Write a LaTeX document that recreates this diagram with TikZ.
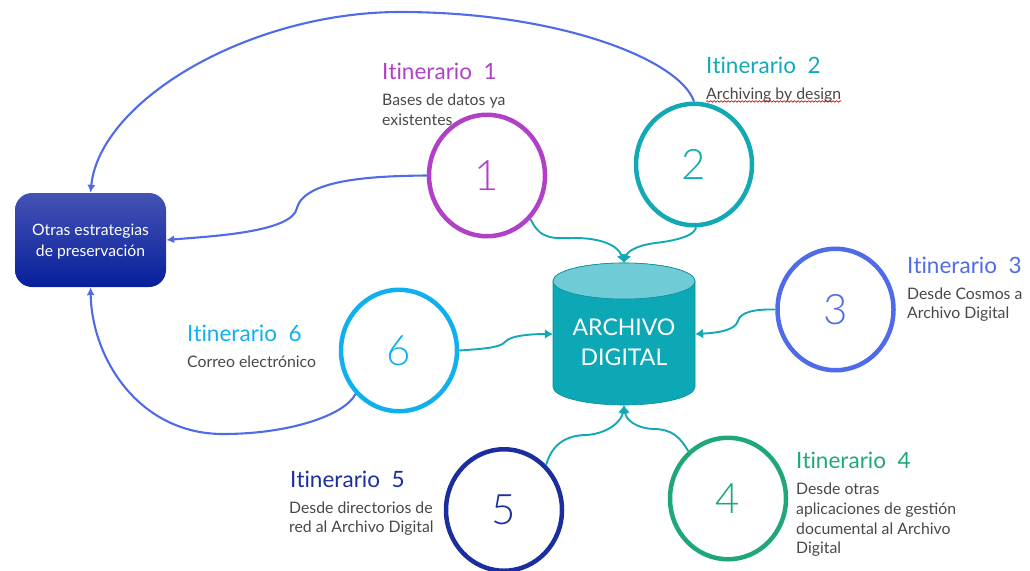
\documentclass[tikz,border=0pt]{standalone}
\usepackage{fontspec}
\setmainfont{Lato}
\newfontfamily\lightf{Lato Light}
\newfontfamily\titlef{Lato}[Kerning=Off,Ligatures=NoCommon]
\usetikzlibrary{arrows.meta,decorations.pathmorphing,shapes.geometric}
\definecolor{cpurple}{HTML}{B040C8}
\definecolor{cteal}{HTML}{12A9B5}
\definecolor{cblue}{HTML}{4F6BE8}
\definecolor{cgreen}{HTML}{1FA876}
\definecolor{cnavy}{HTML}{1C2E9E}
\definecolor{ccyan}{HTML}{10B0EE}
\definecolor{bodyt}{HTML}{0CA8B6}
\definecolor{topt}{HTML}{6FCBD5}
\definecolor{greyt}{HTML}{484848}
\definecolor{boxtop}{HTML}{4453B4}
\definecolor{boxbot}{HTML}{081F9C}
\tikzset{
  ring/.style={ellipse,draw=#1,line width=4.5pt,text=#1,minimum width=116pt,minimum height=121.5pt,inner sep=0pt,font=\lightf\fontsize{42}{42}\selectfont},
  ititle/.style={anchor=base west,inner sep=0pt,text=#1,font=\titlef\fontsize{22.5}{26}\selectfont},
  idesc/.style={anchor=north west,inner sep=0pt,text=greyt,align=left,font=\fontsize{15.8}{19.6}\selectfont},
  tealcon/.style={draw=cteal,line width=1.9pt,-{Latex[length=8pt,width=10pt]}},
  bluecon/.style={draw=cblue,line width=2.1pt,-{Latex[length=8pt,width=8pt]}},
}
\begin{document}
\begin{tikzpicture}[x=1pt,y=-1pt]
\useasboundingbox (0,0) rectangle (1030,570);
% cylinder
\path[fill=bodyt,draw=bodyt!85!black,line width=.6pt] (553,281) -- (553,387) arc[start angle=180,end angle=0,x radius=71,y radius=18] -- (695,281) arc[start angle=0,end angle=-180,x radius=71,y radius=18] -- cycle;
\path[fill=topt,draw=bodyt!85!black,line width=.6pt] (624,281) ellipse[x radius=71,y radius=18];
\node[minimum width=142pt,minimum height=142pt,inner sep=0pt] (arch) at (624,334) {};
\node[inner sep=0pt,text=white,align=center,font=\fontsize{23}{30}\selectfont] (archlabel) at (624,342.5) {ARCHIVO\\DIGITAL};
% box
\node[rounded corners=17pt,minimum width=151pt,minimum height=94pt,inner sep=0pt,top color=boxtop,bottom color=boxbot,text=white,align=center,font=\fontsize{15.7}{20.5}\selectfont] (box) at (90.5,240) {\rule{0pt}{14.5pt}Otras estrategias\\de preservación};
% rings
\node[ring=cpurple] (c1) at (487,175.5) {1};
\node[ring=cteal] (c2) at (694,164.5) {2};
\node[ring=cblue] (c3) at (835.5,309.5) {3};
\node[ring=cgreen] (c4) at (728,498.5) {4};
\node[ring=cnavy] (c5) at (504,510) {5};
\node[ring=ccyan] (c6) at (399,350.5) {6};
% titles
\node[ititle=cpurple] (t1) at (382,79.5) {Itinerario\hspace{.25em} 1};
\node[idesc] (d1) at (382,94) {Bases de datos ya\\existentes};
\node[ititle=cteal] (t2) at (706,73) {Itinerario\hspace{.25em} 2};
\node[idesc] (d2) at (706,87.5) {Archiving by design};
\draw[red!75!black,line width=.6pt,decorate,decoration={snake,amplitude=.8pt,segment length=3.5pt}] ([yshift=1pt]d2.south west) -- ([yshift=1pt]d2.south east);
\node[ititle=cblue] (t3) at (907,273.5) {Itinerario\hspace{.25em} 3};
\node[idesc] (d3) at (907,287.5) {Desde Cosmos a\\Archivo Digital};
\node[ititle=cgreen] (t4) at (796,468.5) {Itinerario\hspace{.25em} 4};
\node[idesc] (d4) at (796,483) {Desde otras\\aplicaciones de gestión\\documental al Archivo\\Digital};
\node[ititle=cnavy] (t5) at (290,487) {Itinerario\hspace{.25em} 5};
\node[idesc] (d5) at (289,501.5) {Desde directorios de\\red al Archivo Digital};
\node[ititle=ccyan] (t6) at (187,341) {Itinerario\hspace{.25em} 6};
\node[idesc] (d6) at (187,355.5) {Correo electrónico};
% teal connectors
\draw[tealcon] (c1.-45) .. controls +(10,22) and (555,238) .. (575,238) .. controls (600,238) and (618,245) .. (arch.north);
\draw[tealcon] (c2.-88) .. controls (694,238) and (665,242) .. (655,243) .. controls (640,245) and (628,250) .. (arch.north);
\draw[tealcon] (c3.west) .. controls (755,309) and (740,312) .. (738,321) .. controls (735,331) and (715,333) .. (arch.east);
\draw[tealcon] (c6.east) .. controls (480,349) and (500,348) .. (505,342) .. controls (510,335) and (535,334) .. (arch.west);
\draw[tealcon] (c5.47) .. controls (552,445) and (565,435) .. (587,435) .. controls (610,433) and (622,420) .. (arch.south);
\draw[tealcon] (c4.130) .. controls (680,437) and (672,429) .. (653,429) .. controls (636,428) and (626,420) .. (arch.south);
% blue connectors
\draw[bluecon] (c2.90) .. controls (680,60) and (560,12) .. (400,12) .. controls (250,12) and (100,100) .. (box.north);
\draw[bluecon] (c1.180) .. controls (380,176) and (305,178) .. (297,208) .. controls (292,232) and (215,236) .. (box.east);
\draw[bluecon] (c6.-135) .. controls (345,415) and (290,434) .. (223,434) .. controls (140,434) and (92,360) .. (box.south);
\end{tikzpicture}
\end{document}
